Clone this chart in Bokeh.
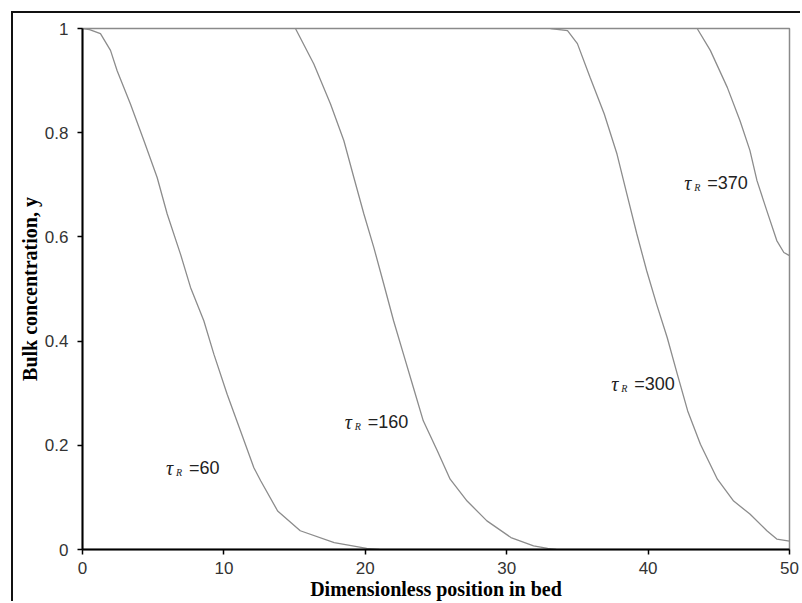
from bokeh.plotting import figure
from bokeh.models import Range1d, FixedTicker
from bokeh.core.properties import value
from bokeh.embed import file_html
from bokeh.resources import INLINE

# Breakthrough profiles: bulk concentration along the bed at four times
x_tau60 = [0.0, 0.5, 1.27, 1.98, 2.45, 3.39, 4.34, 5.28, 5.99, 6.93, 7.64, 8.58,
           9.29, 10.23, 11.17, 12.12, 12.6, 13.8, 15.4, 17.8, 20.1, 21.0]
y_tau60 = [1.0, 0.998, 0.99, 0.958, 0.919, 0.855, 0.785, 0.714, 0.644, 0.567, 0.503, 0.439,
           0.375, 0.298, 0.228, 0.157, 0.132, 0.074, 0.036, 0.013, 0.002, 0.0]

x_tau160 = [15.06, 16.36, 17.54, 18.48, 19.19, 19.9, 20.6, 21.3, 22.0, 22.7, 23.4,
            24.1, 25.1, 26.0, 27.2, 28.6, 30.3, 31.9, 32.9, 33.5]
y_tau160 = [1.0, 0.932, 0.855, 0.785, 0.714, 0.644, 0.58, 0.51, 0.439, 0.375, 0.311,
            0.247, 0.189, 0.135, 0.093, 0.055, 0.023, 0.007, 0.002, 0.0]

x_tau300 = [33.1, 34.3, 35.0, 35.9, 36.9, 37.8, 38.5, 39.2, 39.9, 40.6, 41.35, 42.06,
            42.8, 43.7, 44.9, 46.05, 47.2, 48.4, 49.1, 50.0]
y_tau300 = [1.0, 0.996, 0.971, 0.906, 0.836, 0.759, 0.682, 0.606, 0.535, 0.471, 0.407, 0.337,
            0.266, 0.202, 0.135, 0.093, 0.068, 0.036, 0.02, 0.016]

x_tau370 = [43.47, 44.4, 45.6, 46.5, 47.2, 47.7, 48.4, 49.1, 49.6, 50.0]
y_tau370 = [1.0, 0.958, 0.887, 0.823, 0.766, 0.708, 0.65, 0.593, 0.57, 0.564]

curve_labels = ["60", "160", "300", "370"]
label_x = [5.9, 18.55, 37.4, 42.55]
label_y = [0.157, 0.245, 0.318, 0.704]

x_ticks = [0, 10, 20, 30, 40, 50]
y_ticks = [0, 0.2, 0.4, 0.6, 0.8, 1]

p = figure(width=789, height=590,
           x_range=Range1d(0, 50), y_range=Range1d(0, 1),
           output_backend="svg", toolbar_location=None,
           min_border_left=69, min_border_right=13,
           min_border_top=15, min_border_bottom=54)
p.styles = {"margin-left": "11px", "margin-top": "11px",
            "border-left": "2px solid #111", "border-top": "2px solid #111"}

p.background_fill_color = "white"
p.border_fill_color = "white"
p.outline_line_color = "#8a8a8a"
p.outline_line_width = 1.5
p.xgrid.visible = False
p.ygrid.visible = False

p.xaxis.ticker = FixedTicker(ticks=x_ticks)
p.yaxis.ticker = FixedTicker(ticks=y_ticks)
p.yaxis.major_label_overrides = {0: "0", 1: "1"}
for ax in (p.xaxis, p.yaxis):
    ax.axis_line_color = "black"
    ax.axis_line_width = 2
    ax.major_tick_line_color = "black"
    ax.major_tick_line_width = 1.5
    ax.major_tick_out = 5
    ax.major_tick_in = 0
    ax.minor_tick_line_color = None
    ax.major_label_text_font = "Liberation Sans"
    ax.major_label_text_font_size = "17px"
    ax.major_label_text_color = "#333333"
    ax.axis_label_text_font = "Liberation Serif"
    ax.axis_label_text_font_style = "bold"
    ax.axis_label_text_font_size = "20px"
    ax.axis_label_text_color = "black"
p.xaxis.major_label_standoff = 7
p.yaxis.major_label_standoff = 9
p.xaxis.axis_label = "Dimensionless position in bed"
p.yaxis.axis_label = "Bulk concentration, y"
p.xaxis.axis_label_standoff = 1
p.yaxis.axis_label_standoff = 1

for xs, ys in ((x_tau60, y_tau60), (x_tau160, y_tau160),
               (x_tau300, y_tau300), (x_tau370, y_tau370)):
    p.line(xs, ys, line_color="#8c8c8c", line_width=1.3)

# curve annotations: tau with subscript R, then the value
p.text(x=label_x, y=label_y, text=["τ"] * 4,
       text_font=value("Liberation Serif"), text_font_style="italic",
       text_font_size="20px", text_color="#222222",
       text_align="left", text_baseline="middle")
p.text(x=label_x, y=label_y, text=["R"] * 4, x_offset=10, y_offset=5,
       text_font=value("Liberation Serif"), text_font_style="italic",
       text_font_size="10px", text_color="#222222",
       text_align="left", text_baseline="middle")
p.text(x=label_x, y=label_y, text=["=" + v for v in curve_labels], x_offset=23,
       text_font=value("Liberation Sans"), text_font_size="18px",
       text_color="#222222", text_align="left", text_baseline="middle")

open("out.html", "w").write(file_html(p, INLINE))
